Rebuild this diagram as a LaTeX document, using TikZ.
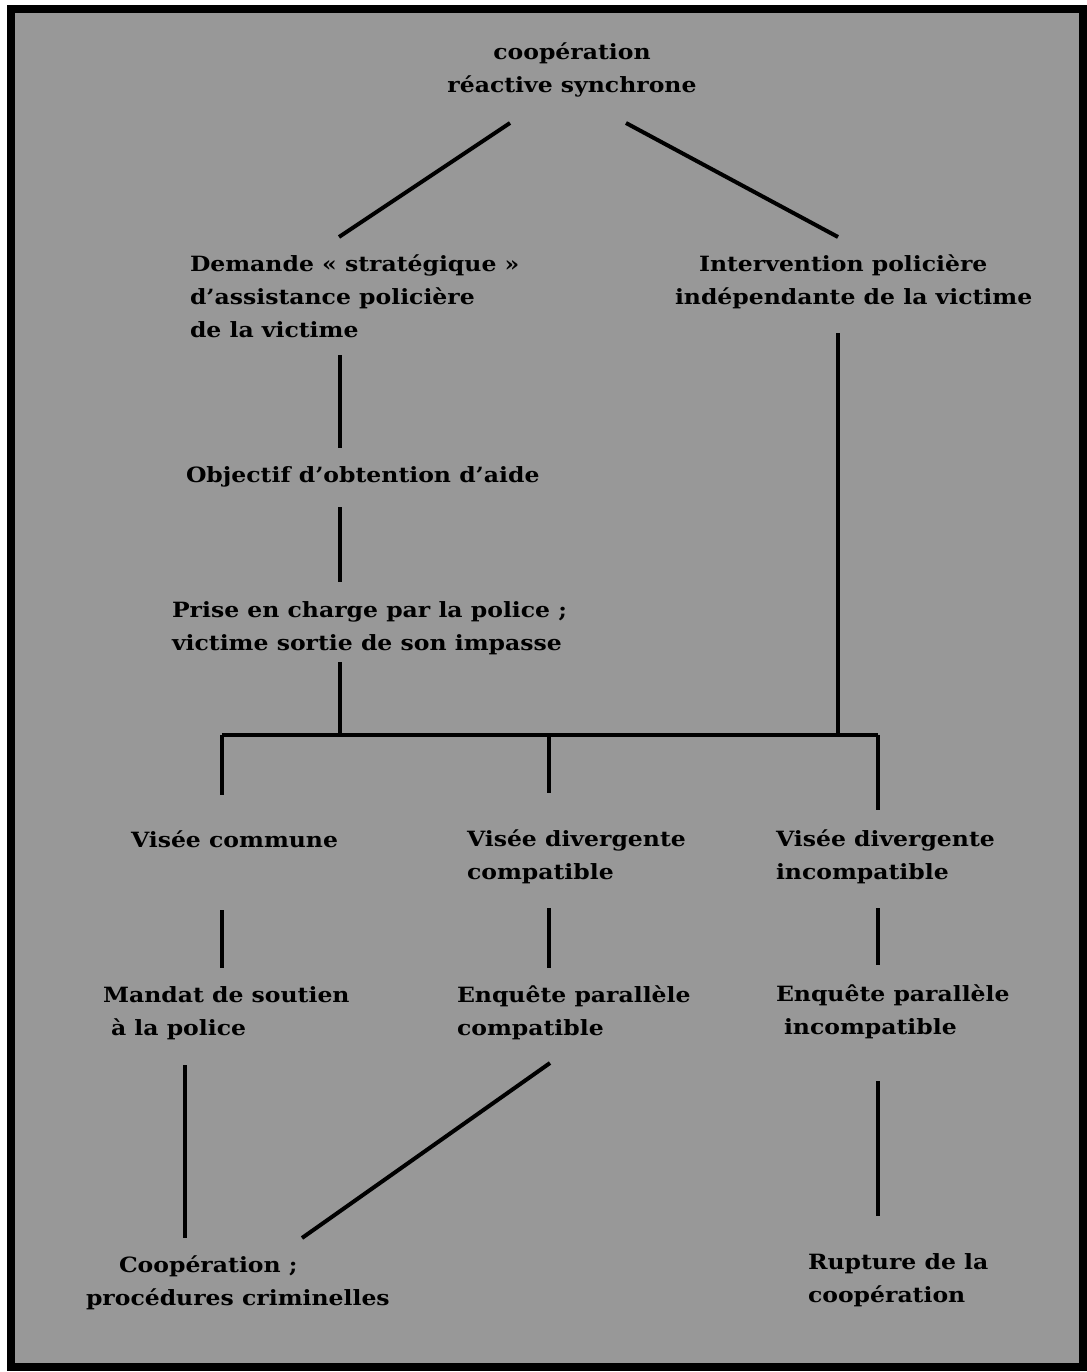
\documentclass[tikz,border=0pt]{standalone}
\usepackage{fontspec}
\setmainfont{DejaVu Serif}[FakeStretch=1.12]
\definecolor{bg}{RGB}{152,152,152}
\begin{document}
\begin{tikzpicture}[x=1pt,y=-1pt,
  lbl/.style={inner sep=0pt, outer sep=0pt, font=\fontsize{21}{33}\selectfont\bfseries, align=left, anchor=base west},
  clbl/.style={lbl, align=center, anchor=base},
  conn/.style={line width=4pt, black}]
\useasboundingbox (0,0) rectangle (1086,1372);
\fill[white] (0,0) rectangle (1086,1372);
\filldraw[fill=bg, draw=black, line width=8pt] (11,9) rectangle (1083,1367);

% nodes (anchor = baseline of the last line)
\node[clbl] (top) at (572,93) {coopération\\réactive synchrone};
\node[lbl] (dem) at (190,337) {Demande « stratégique »\\d’assistance policière\\de la victime};
\node[lbl] (interv) at (675,304) {\hspace*{24pt}Intervention policière\\indépendante de la victime};
\node[lbl] (obj) at (186,482) {Objectif d’obtention d’aide};
\node[lbl] (prise) at (172,650) {Prise en charge par la police ;\\victime sortie de son impasse};
\node[lbl] (vc) at (131,847) {Visée commune};
\node[lbl] (vdc) at (467,879) {Visée divergente\\compatible};
\node[lbl] (vdi) at (776,879) {Visée divergente\\incompatible};
\node[lbl] (mandat) at (103,1035) {Mandat de soutien\\\hspace*{8pt}à la police};
\node[lbl] (epc) at (457,1035) {Enquête parallèle\\compatible};
\node[lbl] (epi) at (776,1034) {Enquête parallèle\\\hspace*{8pt}incompatible};
\node[lbl] (coop) at (86,1305) {\hspace*{33pt}Coopération ;\\procédures criminelles};
\node[lbl] (rupt) at (808,1302) {Rupture de la\\coopération};

% connector end points
\coordinate (topL) at (510,123);
\coordinate (demT) at (339,237);
\coordinate (topR) at (626,123);
\coordinate (intT) at (838,237);
\coordinate (demB) at (340,355);
\coordinate (objT) at (340,448);
\coordinate (objB) at (340,507);
\coordinate (priT) at (340,582);
\coordinate (priB) at (340,662);
\coordinate (jP) at (340,735);
\coordinate (intB) at (838,333);
\coordinate (jI) at (838,735);
\coordinate (jL) at (222,735);
\coordinate (jM) at (549,735);
\coordinate (jR) at (878,735);
\coordinate (vcT) at (222,795);
\coordinate (vdcT) at (549,793);
\coordinate (vdiT) at (878,810);
\coordinate (vcB) at (222,910);
\coordinate (manT) at (222,968);
\coordinate (vdcB) at (549,908);
\coordinate (epcT) at (549,968);
\coordinate (vdiB) at (878,908);
\coordinate (epiT) at (878,965);
\coordinate (manB) at (185,1065);
\coordinate (coopT) at (185,1238);
\coordinate (epcB) at (550,1063);
\coordinate (coopR) at (302,1238);
\coordinate (epiB) at (878,1081);
\coordinate (ruptT) at (878,1216);

% connectors
\draw[conn] (topL) -- (demT);
\draw[conn] (topR) -- (intT);
\draw[conn] (demB) -- (objT);
\draw[conn] (objB) -- (priT);
\draw[conn] (priB) -- (jP);
\draw[conn] (intB) -- (jI);
\draw[conn] (jL) -- (jR);
\draw[conn] (jL) -- (vcT);
\draw[conn] (jM) -- (vdcT);
\draw[conn] (jR) -- (vdiT);
\draw[conn] (vcB) -- (manT);
\draw[conn] (vdcB) -- (epcT);
\draw[conn] (vdiB) -- (epiT);
\draw[conn] (manB) -- (coopT);
\draw[conn] (epcB) -- (coopR);
\draw[conn] (epiB) -- (ruptT);
\end{tikzpicture}
\end{document}
